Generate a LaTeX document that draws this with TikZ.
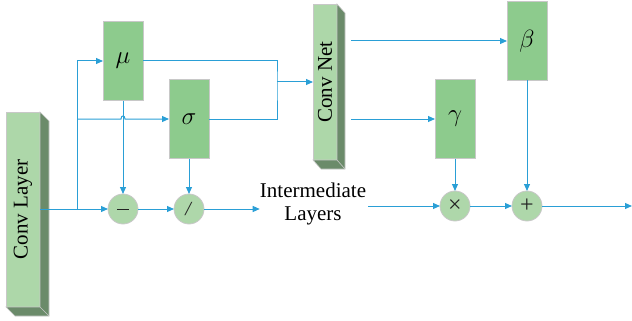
\documentclass[tikz,border=0pt]{standalone}
\usepackage{fontspec}
\setmainfont{Liberation Serif}
\usetikzlibrary{arrows.meta}
\definecolor{linecol}{HTML}{2A9FD6}
\definecolor{boxfill}{HTML}{8DCB8D}
\definecolor{boxedge}{HTML}{C8C8C8}
\definecolor{circfill}{HTML}{AED7AA}
\definecolor{frontfill}{HTML}{ADD7A9}
\definecolor{sidefill}{HTML}{6B8B6A}
\definecolor{symcol}{HTML}{222222}
\tikzset{
  conn/.style={draw=linecol, line width=1pt},
  arr/.style={conn, -{Triangle[length=7pt,width=6pt]}},
  pbox/.style={rectangle, fill=boxfill, draw=boxedge, line width=0.8pt, minimum width=40pt, minimum height=79pt, inner sep=0pt, outer sep=0pt, font=\fontsize{23}{26}\selectfont},
  opcirc/.style={circle, fill=circfill, draw=boxedge, line width=0.8pt, minimum size=30pt, inner sep=0pt, outer sep=0pt, text=symcol, font=\fontsize{24}{26}\selectfont},
  front/.style={rectangle, fill=frontfill, draw=boxedge, line width=0.6pt, inner sep=0pt, outer sep=0pt},
  side/.style={fill=sidefill, draw=boxedge, line width=0.6pt},
  lbl/.style={align=center, inner sep=0pt, font=\fontsize{21}{23}\selectfont}
}
\begin{document}
\begin{tikzpicture}[x=1pt, y=-1pt]
\useasboundingbox (0,0) rectangle (632,321);
% Conv Layer 3D block
\node[front, minimum width=34pt, minimum height=195pt] (CL) at (23,209.5) {};
\path[side] (CL.north east) -- ++(9,9) -- ++(0,195) -- ++(-34,0) -- (CL.south west) -- (CL.south east) -- cycle;
\draw[boxedge, line width=0.6pt] (CL.south east) -- ++(9,9);
\node[rotate=90, font=\fontsize{21}{24}\selectfont] at (CL.center) {Conv Layer};
% Conv Net 3D block
\node[front, minimum width=24pt, minimum height=156pt] (CN) at (325,82) {};
\path[side] (CN.north east) -- ++(8,9) -- ++(0,156) -- ++(-24,0) -- (CN.south west) -- (CN.south east) -- cycle;
\draw[boxedge, line width=0.6pt] (CN.south east) -- ++(8,9);
\node[rotate=90, font=\fontsize{21}{24}\selectfont] at (CN.center) {Conv Net};
% parameter boxes
\node[pbox] (mu) at (123,61) {$\mu$};
\node[pbox] (sigma) at (189,119) {$\sigma$};
\node[pbox] (gamma) at (455,119) {$\gamma$};
\node[pbox] (beta) at (527,41) {$\beta$};
% operators
\node[opcirc] (minus) at (123,209) {\rule[0pt]{12pt}{0.9pt}};
\node[opcirc] (divide) at (189,209) {\fontsize{20}{22}\selectfont\textit{/}};
\node[opcirc] (times) at (455,206) {×};
\node[opcirc] (plus) at (527,206) {+};
\node[lbl] (IL) at (313,204) {Intermediate\\Layers};
% junctions
\coordinate (j1) at (77,209);
\coordinate (j2) at (77,119);
\coordinate (m1) at (277,82);
\coordinate (out) at (632,206);
% connections
\draw[arr] (CL.east |- minus) -- (minus);
\draw[arr] (j1) |- (mu.west);
\draw[arr] (j2) -- (121,119) .. controls (121,115) and (125,115) .. (125,119) -- (sigma.west);
\draw[arr] (mu.south) -- (minus.north);
\draw[arr] (sigma.south) -- (divide.north);
\draw[arr] (minus) -- (divide);
\draw[arr] (divide) -- (divide -| IL.west);
\draw[conn] (mu.east) -| (m1) |- (sigma.east);
\draw[arr] (m1) -- (CN.west);
\draw[arr] ([xshift=14pt]CN.east |- beta.west) -- (beta.west);
\draw[arr] ([xshift=14pt]CN.east |- gamma.west) -- (gamma.west);
\draw[arr] (gamma.south) -- (times.north);
\draw[arr] (beta.south) -- (plus.north);
\draw[arr] ([xshift=2pt]IL.east |- times) -- (times);
\draw[arr] (times) -- (plus);
\draw[arr] (plus) -- (out);
\end{tikzpicture}
\end{document}
